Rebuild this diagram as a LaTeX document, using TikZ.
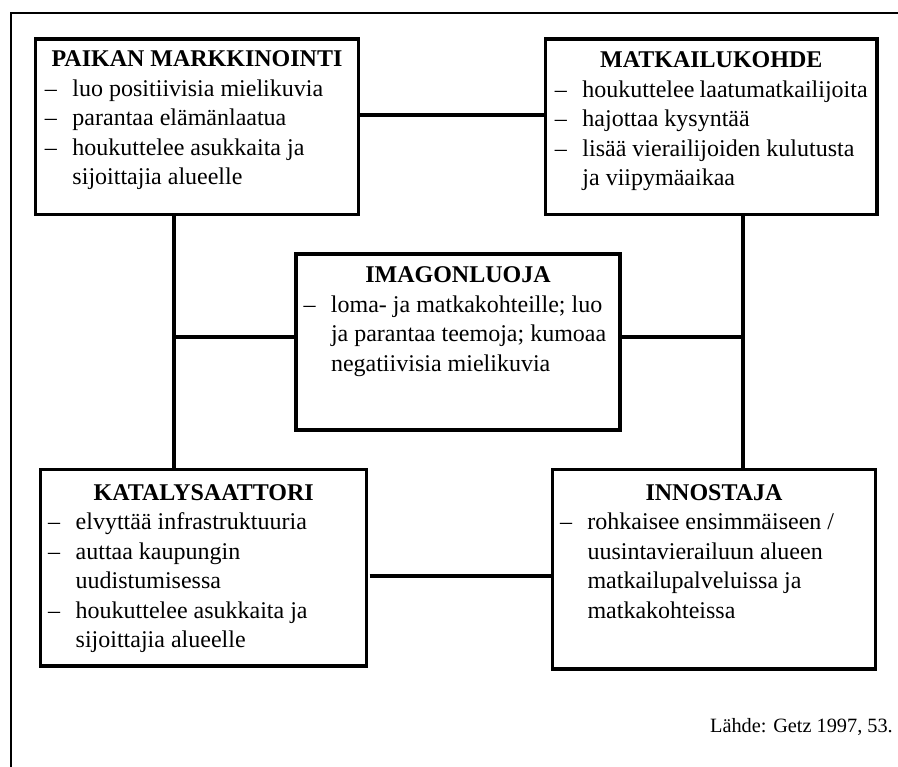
\documentclass[tikz,border=0pt]{standalone}
\usepackage{fontspec}
\setmainfont{Liberation Serif}
\usetikzlibrary{calc}
\hfuzz=200pt
\newcommand{\itm}[1]{\par\hangindent=27.5pt\hangafter=1\noindent\makebox[27.5pt][l]{–}#1}
\newcommand{\ttl}[1]{\noindent\makebox[\linewidth][c]{\bfseries #1}}
\newcommand{\boxtext}[2]{\parbox[t]{#1}{\fontsize{24}{29.5}\selectfont\raggedright #2}}
\begin{document}
\begin{tikzpicture}[x=1pt,y=-1pt,
  boxnode/.style={draw,line width=3.3pt,inner sep=0pt,outer sep=0pt},
  conn/.style={draw,line width=3.8pt},
  txt/.style={inner sep=0pt,outer sep=0pt,anchor=base west}]
\useasboundingbox (0,0) rectangle (898,767);
\fill[white] (0,0) rectangle (898,767);
% outer frame (continues beyond the picture)
\draw[line width=2pt] (10.7,800) -- (10.7,12.7) -- (930,12.7);

% boxes
\node[boxnode,minimum width=322.8pt,minimum height=175.3pt] (pm) at (196.9,126.6) {};
\node[boxnode,minimum width=331.3pt,minimum height=175.3pt] (mk) at (711.3,126.6) {};
\node[boxnode,minimum width=324pt,minimum height=176pt] (im) at (458,342) {};
\node[boxnode,minimum width=326pt,minimum height=196.7pt] (kat) at (203.7,567.7) {};
\node[boxnode,minimum width=323.4pt,minimum height=199.7pt] (inn) at (714,569.2) {};

% texts
\node[txt] (pmtxt) at ($(pm.north west)+(9.5,28)$) {\boxtext{304pt}{%
  \ttl{PAIKAN MARKKINOINTI}
  \itm{luo positiivisia mielikuvia}
  \itm{parantaa elämänlaatua}
  \itm{houkuttelee asukkaita ja\newline sijoittajia alueelle}}};
\node[txt] (mktxt) at ($(mk.north west)+(9.3,29)$) {\boxtext{312.7pt}{%
  \ttl{MATKAILUKOHDE}
  \itm{houkuttelee laatumatkailijoita}
  \itm{hajottaa kysyntää}
  \itm{lisää vierailijoiden kulutusta\newline ja viipymäaikaa}}};
\node[txt] (imtxt) at ($(im.north west)+(7.5,29)$) {\boxtext{309pt}{%
  \ttl{IMAGONLUOJA}
  \itm{loma- ja matkakohteille; luo\newline ja parantaa teemoja; kumoaa\newline negatiivisia mielikuvia}}};
\node[txt] (kattxt) at ($(kat.north west)+(7.5,30.7)$) {\boxtext{311pt}{%
  \ttl{KATALYSAATTORI}
  \itm{elvyttää infrastruktuuria}
  \itm{auttaa kaupungin\newline uudistumisessa}
  \itm{houkuttelee asukkaita ja\newline sijoittajia alueelle}}};
\node[txt] (inntxt) at ($(inn.north west)+(7.7,30.7)$) {\boxtext{308pt}{%
  \ttl{INNOSTAJA}
  \itm{rohkaisee ensimmäiseen /\newline uusintavierailuun alueen\newline matkailupalveluissa ja\newline matkakohteissa}}};

% connectors
\coordinate (pmr) at ($(pm.east)+(0,-11.3)$);
\draw[conn] (pmr) -- (pmr -| mk.west);
\coordinate (pmb) at ($(pm.south)+(-23.2,0)$);
\draw[conn] (pmb) -- (pmb |- kat.north);
\coordinate (mkb) at ($(mk.south)+(32,0)$);
\draw[conn] (mkb) -- (mkb |- inn.north);
\coordinate (iml) at ($(im.west)+(0,-4.7)$);
\draw[conn] (iml) -- (iml -| pmb);
\coordinate (imr) at ($(im.east)+(0,-4.7)$);
\draw[conn] (imr) -- (imr -| mkb);
\coordinate (katr) at ($(kat.east)+(3,8.3)$);
\draw[conn] (katr) -- (katr -| inn.west);

% source
\node[inner sep=0pt,anchor=base east] (src) at (893,732) {\fontsize{20.3}{24}\selectfont Lähde: Getz 1997, 53.};
\end{tikzpicture}
\end{document}
